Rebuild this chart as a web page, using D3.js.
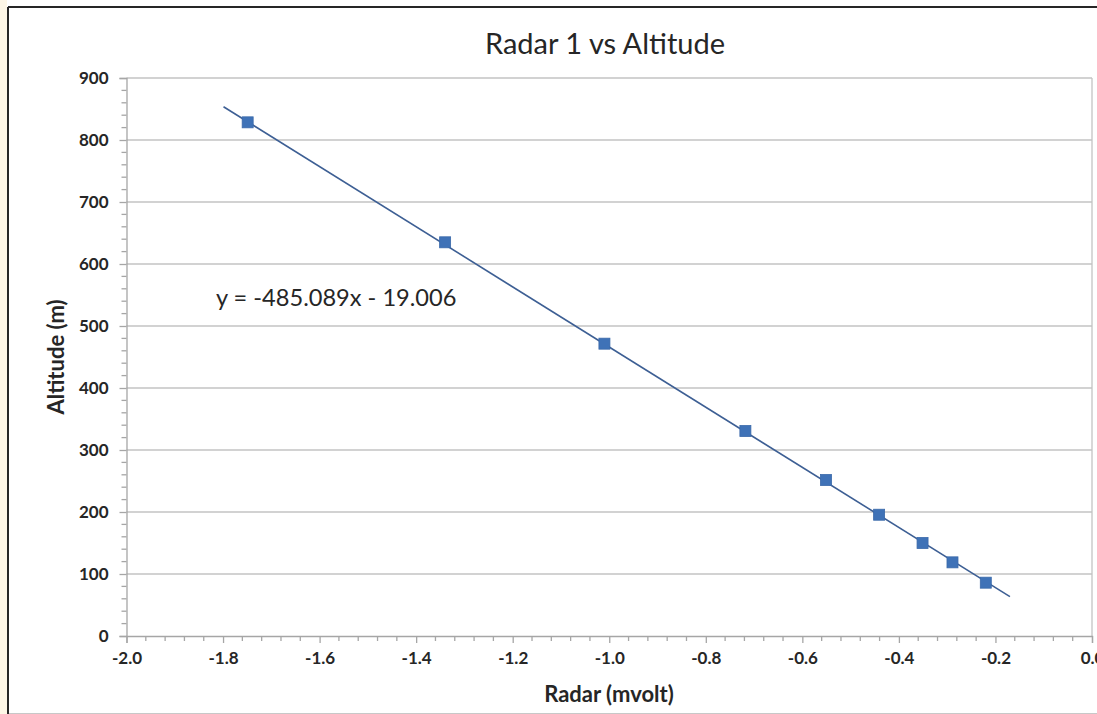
<!DOCTYPE html>
<html>
<head>
<meta charset="utf-8">
<script src="https://cdn.jsdelivr.net/npm/d3@7"></script>
<style>
  html, body { margin: 0; padding: 0; background: #ffffff; }
  svg { display: block; }
  text { font-family: Lato, "Open Sans", sans-serif; }
</style>
</head>
<body>
<svg id="chart" width="1097" height="714"></svg>
<script>
// ---- data ----
const radarValues    = [-1.749, -1.340, -1.010, -0.718, -0.551, -0.441, -0.351, -0.289, -0.220];
const altitudeValues = [828.5, 635, 471.5, 330.6, 251.6, 195.6, 150, 118.8, 86];
const trendCoefficients = [-485.089, -19.006];   // slope, intercept
const trendExtension = [0.05, 0.05];              // backward, forward (x units)
const xTicks = [-2.0, -1.8, -1.6, -1.4, -1.2, -1.0, -0.8, -0.6, -0.4, -0.2, 0.0];
const yTicks = [0, 100, 200, 300, 400, 500, 600, 700, 800, 900];
const titleText = "Radar 1 vs Altitude";
const xTitle = "Radar (mvolt)";
const yTitle = "Altitude (m)";
const equationText = "y = -485.089x - 19.006";

// ---- layout ----
const svg = d3.select("#chart");
const W = 1097, H = 714;
const plot = { left: 126.5, right: 1092, top: 78, bottom: 636 };

const x = d3.scaleLinear().domain([-2, 0]).range([plot.left, plot.right]);
const y = d3.scaleLinear().domain([0, 900]).range([plot.bottom, plot.top]);
const fmtX = d => d3.format(".1f")(d).replace("\u2212", "-");

// outer frame
svg.append("rect").attr("x", 0).attr("y", 0).attr("width", 7).attr("height", H).attr("fill", "#fdf6e6");
svg.append("line").attr("x1", 8).attr("x2", 8).attr("y1", 7).attr("y2", H).attr("stroke", "#262626").attr("stroke-width", 2);
svg.append("line").attr("x1", 8).attr("x2", W).attr("y1", 7).attr("y2", 7).attr("stroke", "#262626").attr("stroke-width", 2);
svg.append("line").attr("x1", 9).attr("x2", W).attr("y1", 713.5).attr("y2", 713.5).attr("stroke", "#c8c8c8").attr("stroke-width", 1);

// gridlines
svg.append("g").selectAll("line").data(yTicks.filter(d => d > 0)).join("line")
  .attr("x1", plot.left).attr("x2", plot.right)
  .attr("y1", d => y(d)).attr("y2", d => y(d))
  .attr("stroke", "#c3c3c3").attr("stroke-width", 1.3);
// plot right border
svg.append("line").attr("x1", plot.right).attr("x2", plot.right).attr("y1", plot.top).attr("y2", plot.bottom)
  .attr("stroke", "#c3c3c3").attr("stroke-width", 1.3);

// y axis
const yMinor = d3.range(0, 901, 20).filter(v => v % 100 !== 0);
const yAxis = svg.append("g").attr("transform", `translate(${plot.left},0)`)
  .call(d3.axisLeft(y).tickValues(yTicks).tickFormat(d3.format("d")).tickSize(7).tickPadding(11));
yAxis.select(".domain").attr("stroke", "#a6a6a6").attr("stroke-width", 1.3);
yAxis.selectAll(".tick line").attr("stroke", "#a6a6a6").attr("stroke-width", 1.3);
yAxis.selectAll(".tick text").attr("font-size", 17).attr("font-weight", "bold")
  .attr("fill", "#262626").style("font-family", "Lato, sans-serif");
svg.append("g").selectAll("line").data(yMinor).join("line")
  .attr("x1", plot.left - 5).attr("x2", plot.left)
  .attr("y1", d => y(d)).attr("y2", d => y(d))
  .attr("stroke", "#a6a6a6").attr("stroke-width", 1.3);

// x axis
const xMinor = d3.range(0, 51).map(i => -2 + i * 0.04).filter((v, i) => i % 5 !== 0);
const xAxis = svg.append("g").attr("transform", `translate(0,${plot.bottom})`)
  .call(d3.axisBottom(x).tickValues(xTicks).tickFormat(fmtX).tickSize(7).tickPadding(9));
xAxis.select(".domain").attr("stroke", "#a6a6a6").attr("stroke-width", 1.3);
xAxis.selectAll(".tick line").attr("stroke", "#a6a6a6").attr("stroke-width", 1.3);
xAxis.selectAll(".tick text").attr("font-size", 17).attr("font-weight", "bold")
  .attr("fill", "#262626").style("font-family", "Lato, sans-serif");
svg.append("g").selectAll("line").data(xMinor).join("line")
  .attr("x1", d => x(d)).attr("x2", d => x(d))
  .attr("y1", plot.bottom).attr("y2", plot.bottom + 5)
  .attr("stroke", "#a6a6a6").attr("stroke-width", 1.3);

// trendline
const xMin = d3.min(radarValues) - trendExtension[0];
const xMax = d3.max(radarValues) + trendExtension[1];
const trendPts = [xMin, xMax].map(v => [v, trendCoefficients[0] * v + trendCoefficients[1]]);
svg.append("path")
  .attr("d", d3.line().x(d => x(d[0])).y(d => y(d[1]))(trendPts))
  .attr("stroke", "#3d5f94").attr("stroke-width", 1.6).attr("fill", "none");

// markers
const pts = radarValues.map((v, i) => [v, altitudeValues[i]]);
const ms = 11;
svg.append("g").selectAll("rect").data(pts).join("rect")
  .attr("x", d => x(d[0]) - ms / 2).attr("y", d => y(d[1]) - ms / 2)
  .attr("width", ms).attr("height", ms)
  .attr("fill", "#3f72b7").attr("stroke", "#3a69aa").attr("stroke-width", 0.8);

// title
svg.append("text").attr("x", 605).attr("y", 54).attr("text-anchor", "middle")
  .attr("font-size", 29).attr("fill", "#262626").text(titleText);

// equation
svg.append("text").attr("x", 216).attr("y", 306)
  .attr("font-size", 23.6).attr("fill", "#262626").text(equationText);

// axis titles
svg.append("text").attr("x", 609).attr("y", 702).attr("text-anchor", "middle")
  .attr("font-size", 22).attr("font-weight", "bold").attr("fill", "#262626").text(xTitle);
svg.append("text").attr("transform", "translate(64,357) rotate(-90)").attr("text-anchor", "middle")
  .attr("font-size", 22).attr("font-weight", "bold").attr("fill", "#262626").text(yTitle);
</script>
</body>
</html>
